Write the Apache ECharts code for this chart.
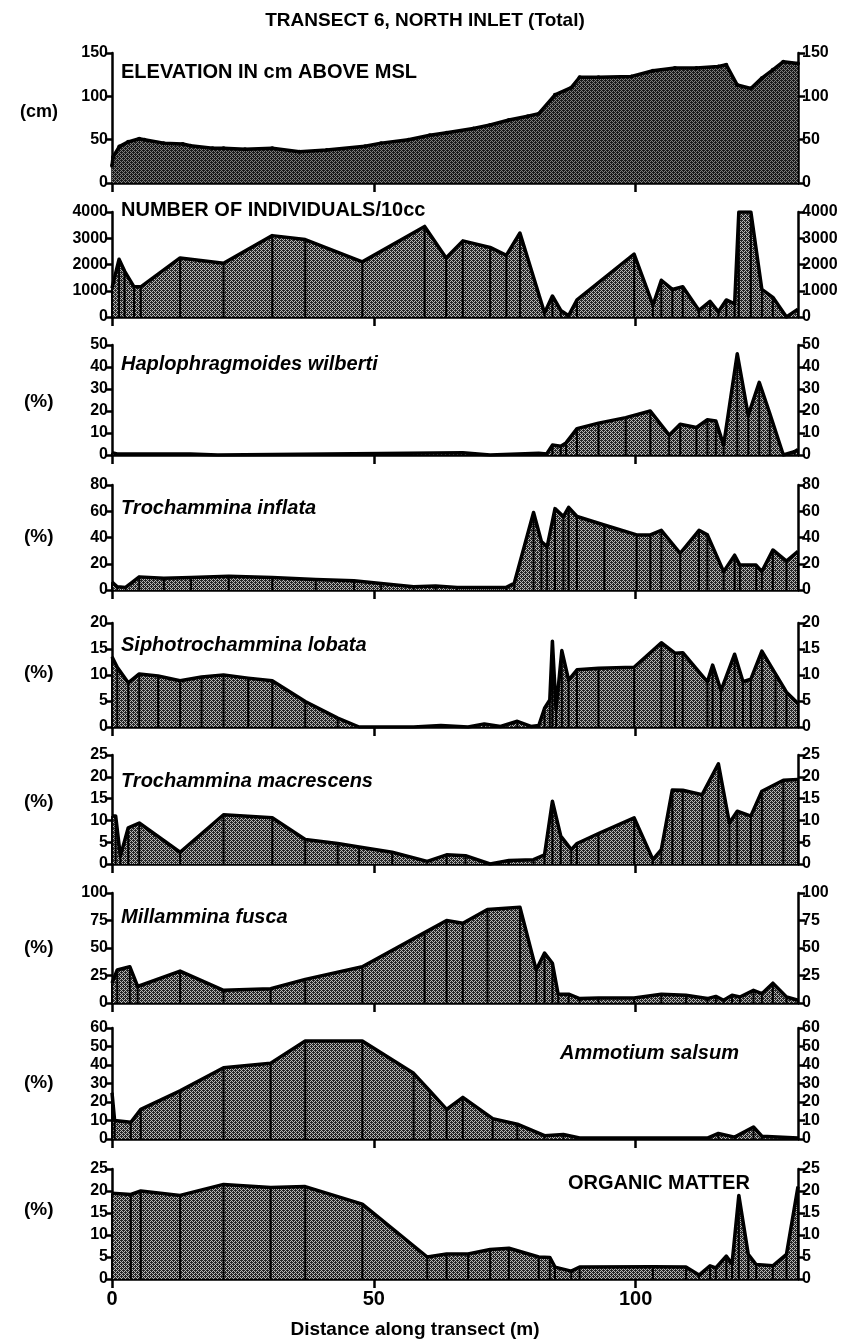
<!DOCTYPE html>
<html>
<head>
<meta charset="utf-8">
<script src="https://cdn.jsdelivr.net/npm/echarts@6/dist/echarts.min.js"></script>
<style>
  html, body { margin: 0; padding: 0; background: #fff; }
  #chart { width: 848px; height: 1342px; }
</style>
</head>
<body>
<div id="chart"></div>
<script>
// Distance along transect (m) and measured values for each profile
const distElev = [0, 0.2, 1.4, 3.1, 5.2, 6.2, 9.9, 13.5, 15, 19.2, 21.3, 25.4, 30.6, 35.8, 41, 48.3, 51.4, 56.6, 60.7, 63.9, 69, 72.2, 75.8, 79.4, 81.5, 84.6, 87.7, 89.3, 92.9, 99.2, 103.3, 107.5, 111.6, 115.8, 117.3, 119.4, 122, 124.1, 126.2, 128.2, 131];
const elevation = [20, 30, 42, 47.5, 51, 50, 46, 45, 43, 40, 40, 39, 40, 36, 38, 42.5, 46, 50, 55, 58, 63, 67, 72.7, 77, 80, 101.7, 110, 122, 122, 123, 129.5, 132.6, 132.6, 134.5, 136.4, 113, 109, 121, 130.6, 140, 138];

const distNum = [0, 1.35, 2.4, 4.2, 5.5, 13, 21.3, 30.6, 36.9, 47.8, 59.7, 63.8, 67, 72.2, 75.3, 77.9, 82.6, 84.1, 85.7, 87.2, 88.8, 99.7, 103.3, 104.9, 107, 109, 112.1, 114.2, 115.8, 117.3, 118.9, 119.7, 122, 124.1, 126.2, 128.8, 131];
const individuals = [1100, 2200, 1750, 1150, 1150, 2250, 2050, 3100, 2950, 2100, 3450, 2250, 2900, 2650, 2350, 3200, 150, 800, 250, 50, 650, 2400, 450, 1400, 1050, 1150, 250, 600, 200, 650, 500, 4000, 4000, 1050, 750, 0, 300];

const distHw = [0, 1, 15, 20.2, 67, 72.2, 81.5, 83, 84.1, 85.7, 86.7, 88.8, 92.9, 98.1, 102.8, 106.4, 108.5, 111.6, 113.7, 115.3, 116.8, 119.4, 121.5, 123.6, 125.6, 128.2, 130.3, 131];
const haplophragmoides = [1, 0.5, 0.5, 0, 1, 0, 0.8, 0.5, 4.5, 4, 5.5, 12, 14.5, 17, 20, 9, 14, 12.5, 16, 15.5, 4.5, 46, 18, 33, 19, 0, 1.5, 2.5];

const distTi = [0, 1, 2.6, 5.2, 9.9, 15.1, 22.3, 30.6, 38.9, 46.2, 51.4, 57.6, 61.8, 65.9, 75.3, 76.8, 80.5, 82, 83.1, 84.6, 86.2, 87.2, 88.8, 94, 100.2, 102.8, 104.9, 108.5, 112.1, 113.7, 116.8, 118.9, 119.9, 123, 124.1, 126.2, 128.8, 131];
const inflata = [6, 2.5, 2, 10, 9, 9.5, 10.5, 9.5, 8, 7, 5, 2.5, 3, 2, 2, 5, 59, 37, 33, 62, 56, 63, 56, 49.5, 42, 42, 45.5, 28, 45.5, 42, 14, 26.5, 19, 19, 14, 30.5, 22, 29.5];

const distSl = [0, 1, 3.1, 5.2, 8.8, 13, 17.1, 21.3, 26, 30.6, 36.9, 43.1, 47.2, 57.6, 62.8, 68, 71.1, 74.2, 77.4, 80, 81.5, 82.6, 83.6, 84.1, 84.8, 85.9, 87.2, 88.8, 92.9, 99.7, 104.9, 107.5, 109, 113.7, 114.7, 116.3, 118.9, 120.5, 122, 124.1, 126.7, 128.8, 131];
const siphotrochammina = [13.5, 11.5, 8.5, 10.2, 9.8, 8.9, 9.6, 10, 9.4, 8.9, 4.9, 1.7, 0, 0, 0.3, 0, 0.6, 0.1, 1.1, 0.1, 0.3, 3.6, 5.2, 16.5, 3.3, 14.7, 9, 11, 11.3, 11.5, 16.2, 14.2, 14.3, 8.7, 11.9, 7, 14, 8.7, 9.2, 14.6, 10.2, 6.7, 4.5];

const distTm = [0, 0.7, 1.6, 3.1, 5.2, 13, 21.3, 30.6, 36.9, 43.1, 47.2, 53.5, 60.2, 63.9, 67.5, 72.2, 75.8, 80.5, 82.6, 84.1, 85.7, 87.7, 88.8, 92.9, 99.7, 103.3, 104.9, 107, 109, 112.7, 115.8, 117.9, 119.4, 122, 124.1, 128.2, 131];
const macrescens = [11, 11, 1.8, 8.3, 9.4, 2.7, 11.3, 10.6, 5.6, 4.7, 3.9, 2.7, 0.6, 2.1, 1.9, 0, 0.8, 1, 2.1, 14.4, 6.4, 3.3, 4.7, 7, 10.6, 1, 3.3, 17, 16.9, 15.9, 23, 9.4, 12.1, 11, 16.7, 19.2, 19.4];

const distMf = [0, 1, 3.4, 4.9, 13, 21.3, 30.3, 36.9, 47.8, 59.7, 63.9, 67, 71.7, 77.9, 81, 82.6, 84.1, 85.2, 87.2, 89.3, 92.9, 99.7, 104.9, 109.6, 113.7, 115.3, 116.8, 118.4, 119.9, 122.5, 124.1, 126.2, 128.8, 131];
const fusca = [18, 30, 33, 15, 29, 11.5, 13, 21.5, 33, 64, 75, 72.5, 85, 87, 30, 45.5, 36, 8, 8, 4, 4.5, 4.5, 8, 7, 4, 6, 2.5, 7, 5.5, 11.5, 8.5, 18, 5.5, 2.5];

const distAs = [0, 0.5, 3.6, 5.5, 13, 21.3, 30.3, 36.9, 47.8, 57.6, 60.7, 63.9, 67, 72.7, 77.4, 82.6, 86.2, 89.3, 113.7, 115.8, 118.9, 122.5, 124.1, 131];
const salsum = [25, 10, 9, 16, 26, 38.5, 41, 53, 53, 35.5, 26, 16, 22.5, 11, 8, 1.8, 2.4, 0.5, 0.5, 3, 1, 6.5, 1.5, 0.5];

const distOm = [0, 3.6, 5.5, 13, 21.3, 30.3, 36.9, 47.8, 60.2, 63.9, 68, 72.2, 75.8, 81.5, 83.6, 84.6, 87.7, 89.3, 103.3, 109.6, 112.1, 114.2, 115.3, 117.3, 118.4, 119.7, 121.5, 123, 126.2, 128.8, 131];
const organicMatter = [19.5, 19.2, 20, 19, 21.5, 20.8, 21, 17, 5, 5.7, 5.7, 6.7, 7, 5, 4.9, 2.7, 1.8, 2.7, 2.8, 2.7, 0.9, 3, 2.5, 5.2, 3.4, 19, 5.6, 3.3, 3, 5.6, 21];

// Axis ranges and tick steps
const yMax = [150, 4000, 50, 80, 20, 25, 100, 60, 25];
const yStep = [50, 1000, 10, 20, 5, 5, 25, 10, 5];
const xTicks = [0, 50, 100];
const xMax = 131;

const FONT = "'Liberation Sans', Arial, sans-serif";

// Halftone fill used under the profiles
function stipple(dark, light) {
  const c = document.createElement('canvas');
  c.width = 4; c.height = 4;
  const g = c.getContext('2d');
  g.fillStyle = light; g.fillRect(0, 0, 4, 4);
  g.fillStyle = dark;
  [[0,0],[2,0],[1,1],[3,1],[0,2],[2,2],[1,3],[3,3],[1,0],[3,2]].forEach(p => g.fillRect(p[0], p[1], 1, 1));
  return { image: c, repeat: 'repeat' };
}
const fillDark = stipple('#1a1a1a', '#7e7e7e');
const fillMid = stipple('#262626', '#b8b8b8');

const zip = (xs, ys) => xs.map((x, i) => [x, ys[i]]);

const profiles = [
  { data: zip(distElev, elevation), top: 53, h: 130, stems: false, fill: fillDark, dots: true },
  { data: zip(distNum, individuals), top: 212, h: 105, stems: true, fill: fillMid },
  { data: zip(distHw, haplophragmoides), top: 345, h: 110, stems: true, fill: fillMid },
  { data: zip(distTi, inflata), top: 485, h: 105, stems: true, fill: fillMid },
  { data: zip(distSl, siphotrochammina), top: 623, h: 104, stems: true, fill: fillMid },
  { data: zip(distTm, macrescens), top: 755, h: 109, stems: true, fill: fillMid },
  { data: zip(distMf, fusca), top: 893, h: 110, stems: true, fill: fillMid },
  { data: zip(distAs, salsum), top: 1028, h: 111, stems: true, fill: fillMid },
  { data: zip(distOm, organicMatter), top: 1169, h: 110, stems: true, fill: fillMid }
];

const grid = [], xAxis = [], yAxis = [], series = [];
const last = profiles.length - 1;

profiles.forEach((p, i) => {
  grid.push({ left: 112, right: 50, top: p.top, height: p.h });
  xAxis.push({
    type: 'value', gridIndex: i, min: 0, max: xMax, interval: 50,
    axisLine: { show: true, onZero: false, lineStyle: { color: '#000', width: 2.5 } },
    axisTick: { show: true, length: 9, lineStyle: { color: '#000', width: 2.5 },
      customValues: xTicks },
    axisLabel: { show: i === last, color: '#000', fontFamily: FONT, fontWeight: 'bold',
      fontSize: 20, margin: 10, customValues: xTicks },
    splitLine: { show: false }
  });
  const yCommon = {
    type: 'value', gridIndex: i, min: 0, max: yMax[i], interval: yStep[i],
    axisLine: { show: true, lineStyle: { color: '#000', width: 2.5 } },
    axisTick: { show: true, length: 7, lineStyle: { color: '#000', width: 2.5 } },
    axisLabel: { color: '#000', fontFamily: FONT, fontWeight: 'bold', fontSize: 16, margin: 4,
      formatter: v => String(v) },
    splitLine: { show: false }
  };
  yAxis.push(Object.assign({}, yCommon, { position: 'left' }));
  yAxis.push(Object.assign({}, yCommon, { position: 'right' }));

  series.push({
    type: 'line', xAxisIndex: i, yAxisIndex: 2 * i, data: p.data,
    symbol: p.dots ? 'circle' : 'none', symbolSize: 4, showSymbol: !!p.dots,
    itemStyle: { color: '#000' },
    lineStyle: { color: '#000', width: 3.5, join: 'round' },
    areaStyle: { color: p.fill, opacity: 1 },
    clip: true, z: 3, animation: false
  });
  if (p.stems) {
    series.push({
      type: 'bar', xAxisIndex: i, yAxisIndex: 2 * i, data: p.data,
      barWidth: 2, itemStyle: { color: '#000' }, z: 4, animation: false
    });
  }
});

const txt = (text, x, y, size, opts) => Object.assign({
  type: 'text', x: x, y: y, z: 20,
  style: Object.assign({ text: text, fill: '#000',
    font: `bold ${size}px ${FONT}`, textAlign: 'left', textVerticalAlign: 'middle' }, opts || {})
});
const ital = (text, x, y, size) => txt(text, x, y, size, { font: `italic bold ${size}px ${FONT}` });

const graphic = [
  txt('TRANSECT 6, NORTH INLET (Total)', 425, 21, 19, { textAlign: 'center' }),
  txt('ELEVATION IN cm ABOVE MSL', 121, 72, 20),
  txt('(cm)', 20, 112, 18),
  txt('NUMBER OF INDIVIDUALS/10cc', 121, 210, 20),
  ital('Haplophragmoides wilberti', 121, 364, 20),
  txt('(%)', 24, 402, 19),
  ital('Trochammina inflata', 121, 508, 20),
  txt('(%)', 24, 537, 19),
  ital('Siphotrochammina lobata', 121, 645, 20),
  txt('(%)', 24, 673, 19),
  ital('Trochammina macrescens', 121, 781, 20),
  txt('(%)', 24, 802, 19),
  ital('Millammina fusca', 121, 917, 20),
  txt('(%)', 24, 948, 19),
  ital('Ammotium salsum', 560, 1053, 20),
  txt('(%)', 24, 1083, 19),
  txt('ORGANIC MATTER', 568, 1183, 20),
  txt('(%)', 24, 1210, 19),
  txt('Distance along transect (m)', 415, 1330, 19, { textAlign: 'center' })
];

const chart = echarts.init(document.getElementById('chart'), null, { renderer: 'canvas' });
chart.setOption({
  backgroundColor: '#fff',
  animation: false,
  grid: grid, xAxis: xAxis, yAxis: yAxis, series: series, graphic: graphic
});
</script>
</body>
</html>
